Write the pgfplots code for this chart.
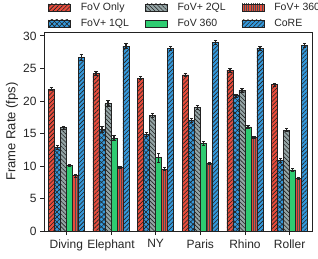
\documentclass[border=0pt]{standalone}
\usepackage{fontspec}
\setmainfont{Liberation Sans}
\usepackage{pgfplots}
\pgfplotsset{compat=1.18}
\usetikzlibrary{patterns.meta}
\definecolor{cred}{HTML}{E74C3C}
\definecolor{cblue}{HTML}{3498DB}
\definecolor{cgray}{HTML}{95A5A6}
\definecolor{cgreen}{HTML}{2ECC71}
\definecolor{edge}{HTML}{222222}

% x  y  err
\pgfplotstableread{
x y e
0 21.8 0.25
1 24.2 0.3
2 23.5 0.25
3 24.0 0.2
4 24.7 0.25
5 22.5 0.2
}\fovonly
\pgfplotstableread{
x y e
0 12.8 0.3
1 15.6 0.4
2 14.9 0.3
3 17.0 0.25
4 20.8 0.25
5 10.9 0.3
}\oneql
\pgfplotstableread{
x y e
0 15.9 0.25
1 19.6 0.4
2 17.8 0.3
3 19.0 0.25
4 21.6 0.25
5 15.5 0.2
}\twoql
\pgfplotstableread{
x y e
0 10.1 0.2
1 14.3 0.4
2 11.3 0.7
3 13.5 0.3
4 16.0 0.2
5 9.4 0.2
}\fovthreesixty
\pgfplotstableread{
x y e
0 8.5 0.2
1 9.8 0.2
2 9.5 0.2
3 10.4 0.2
4 14.4 0.2
5 8.1 0.2
}\fovplusthreesixty
\pgfplotstableread{
x y e
0 26.7 0.4
1 28.4 0.4
2 28.1 0.3
3 29.0 0.3
4 28.1 0.3
5 28.5 0.3
}\core

\begin{document}
\begin{tikzpicture}
\begin{axis}[
  name=ax,
  scale only axis,
  width=268bp, height=199bp,
  ybar,
  bar width=6bp,
  xmin=-0.5, xmax=5.5,
  ymin=0, ymax=30.6,
  xtick={0,1,2,3,4,5},
  xticklabels={Diving,Elephant,NY,Paris,Rhino,Roller},
  ytick={0,5,10,15,20,25,30},
  tick pos=left,
  tick align=outside,
  major tick length=4bp,
  tick style={line width=0.8bp, color=edge},
  axis line style={line width=0.8bp, color=edge},
  ticklabel style={font=\fontsize{12bp}{14bp}\selectfont, text=black!85},
  xticklabel style={yshift=-1bp},
  /pgf/number format/assume math mode=true,
  ylabel={Frame Rate (fps)},
  ylabel style={font=\fontsize{13bp}{15bp}\selectfont, text=black!85,
    at={(axis description cs:-0.119,0.5)}, anchor=center},
  every axis plot/.append style={draw=edge, line width=0.6bp},
  error bars/y dir=both,
  error bars/y explicit,
  error bars/error bar style={line width=1.4bp, color=edge},
  error bars/error mark options={rotate=90, mark size=1.6bp, line width=0.9bp, color=edge},
  legend columns=3,
  legend cell align=left,
  legend image code/.code={\draw[#1, line width=0.6bp] (0bp,-3.5bp) rectangle (22bp,3.5bp);},
  legend style={draw=none, fill=none, at={(0,1)}, anchor=south west,
    xshift=4bp, yshift=2bp, inner sep=0pt,
    font=\fontsize{10.5bp}{12bp}\selectfont, text=black!85,
    row sep=3bp,
    /tikz/every odd column/.append style={column sep=8bp},
    /tikz/every even column/.append style={column sep=14bp}},
]
\addplot[fill=cred, postaction={pattern={Lines[angle=45,distance=3bp,line width=0.6bp]}, pattern color=edge}, bar shift=-15bp]
  table[x=x,y=y,y error=e]{\fovonly};
\addlegendentry{FoV Only}
\addplot[fill=cgray, postaction={pattern={Lines[angle=-45,distance=3bp,line width=0.6bp]}, pattern color=edge}, bar shift=-3bp]
  table[x=x,y=y,y error=e]{\twoql};
\addlegendentry{FoV+ 2QL}
\addplot[fill=cred, postaction={pattern={Lines[angle=90,distance=2.2bp,line width=0.35bp]}, pattern color=black!70}, bar shift=9bp]
  table[x=x,y=y,y error=e]{\fovplusthreesixty};
\addlegendentry{FoV+ 360}
\addplot[fill=cblue, postaction={pattern={Lines[angle=45,distance=3.5bp,line width=0.6bp]}, pattern color=edge}, postaction={pattern={Lines[angle=-45,distance=3.5bp,line width=0.6bp]}, pattern color=edge}, bar shift=-9bp]
  table[x=x,y=y,y error=e]{\oneql};
\addlegendentry{FoV+ 1QL}
\addplot[fill=cgreen, bar shift=3bp]
  table[x=x,y=y,y error=e]{\fovthreesixty};
\addlegendentry{FoV 360}
\addplot[fill=cblue, postaction={pattern={Lines[angle=45,distance=3bp,line width=0.6bp]}, pattern color=edge}, bar shift=15bp]
  table[x=x,y=y,y error=e]{\core};
\addlegendentry{CoRE}
\end{axis}
\pgfresetboundingbox
\path[use as bounding box] ([xshift=-44bp,yshift=-28bp]ax.south west) rectangle ([xshift=6bp,yshift=32bp]ax.north east);
\end{tikzpicture}
\end{document}
